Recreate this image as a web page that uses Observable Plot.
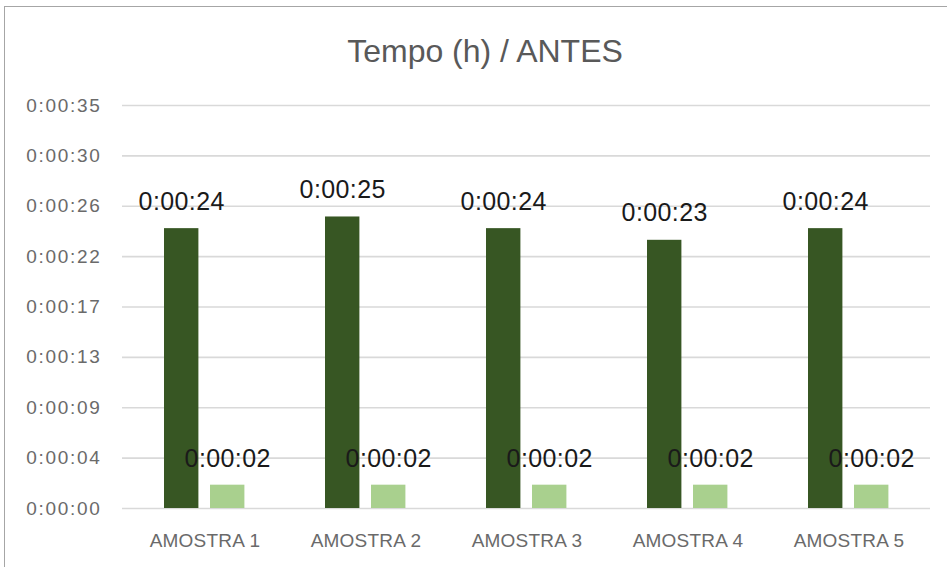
<!DOCTYPE html>
<html>
<head>
<meta charset="utf-8">
<script src="https://cdn.jsdelivr.net/npm/d3@7"></script>
<script src="https://cdn.jsdelivr.net/npm/@observablehq/plot@0.6"></script>
<style>
  html, body { margin: 0; padding: 0; background: #fff; }
  #wrap { position: relative; width: 947px; height: 567px; overflow: hidden; font-family: "Liberation Sans", Arial, sans-serif; }
  #border { position: absolute; left: 4px; top: 6px; width: 1000px; height: 700px; border: 1px solid #a6a6a6; box-sizing: border-box; }
  #title { position: absolute; left: 0; top: 35px; width: 970px; text-align: center; font-size: 32px; line-height: 32px; color: #595959; }
  #chart { position: absolute; left: 0; top: 0; }
  #chart g[aria-label="y-axis tick label"] text { letter-spacing: 1.7px; }
  #chart g[aria-label="x-axis tick label"] text { letter-spacing: 0.2px; }
  #chart g[aria-label="text"] text { letter-spacing: 0.4px; }
</style>
</head>
<body>
<div id="wrap">
  <div id="border"></div>
  <div id="chart"></div>
  <div id="title">Tempo (h) / ANTES</div>
</div>
<script>
// Data (seconds)
const categories = ["AMOSTRA 1", "AMOSTRA 2", "AMOSTRA 3", "AMOSTRA 4", "AMOSTRA 5"];
const serie1 = [24, 25, 24, 23, 24];
const serie2 = [2, 2, 2, 2, 2];
// Excel time-axis ticks (major unit 0.00005 day = 4.32 s)
const yTicks = [0, 4.32, 8.64, 12.96, 17.28, 21.6, 25.92, 30.24, 34.56];

const fmt = s => {
  const t = Math.round(s);
  const h = Math.floor(t / 3600), m = Math.floor((t % 3600) / 60), sec = t % 60;
  return `${h}:${String(m).padStart(2, "0")}:${String(sec).padStart(2, "0")}`;
};

const d1 = categories.map((c, i) => ({cat: c, v: serie1[i]}));
const d2 = categories.map((c, i) => ({cat: c, v: serie2[i]}));

const W = 947, H = 567, mL = 122, mR = 17, mT = 105, mB = 59;
const band = (W - mL - mR) / categories.length;

const plot = Plot.plot({
  width: W,
  height: H,
  marginLeft: mL,
  marginRight: mR,
  marginTop: mT,
  marginBottom: mB,
  style: {fontFamily: "'Liberation Sans', Arial, sans-serif", background: "transparent"},
  x: {domain: categories, padding: 0, label: null},
  y: {domain: [0, 34.56], label: null},
  marks: [
    Plot.ruleY(yTicks, {stroke: "#d9d9d9", strokeWidth: 1.6}),
    Plot.axisY({ticks: yTicks, tickFormat: fmt, tickSize: 0, tickPadding: 21, fontSize: 19, fill: "#6a6a6a", label: null}),
    Plot.axisX({tickSize: 0, tickPadding: 25, fontSize: 19, fill: "#6a6a6a", label: null}),
    Plot.barY(d1, {x: "cat", y: "v", fill: "#375623", insetLeft: 40, insetRight: band - 75}),
    Plot.barY(d2, {x: "cat", y: "v", fill: "#a9d08e", insetLeft: 86, insetRight: band - 121}),
    Plot.text(d1, {x: "cat", y: "v", text: d => fmt(d.v), dx: 57.5 - band / 2, dy: -27, fontSize: 25, fill: "#1a1a1a", textAnchor: "middle", lineAnchor: "middle"}),
    Plot.text(d2, {x: "cat", y: "v", text: d => fmt(d.v), dx: 103.5 - band / 2, dy: -26, fontSize: 25, fill: "#1a1a1a", textAnchor: "middle", lineAnchor: "middle"})
  ]
});
document.getElementById("chart").appendChild(plot);
</script>
</body>
</html>
